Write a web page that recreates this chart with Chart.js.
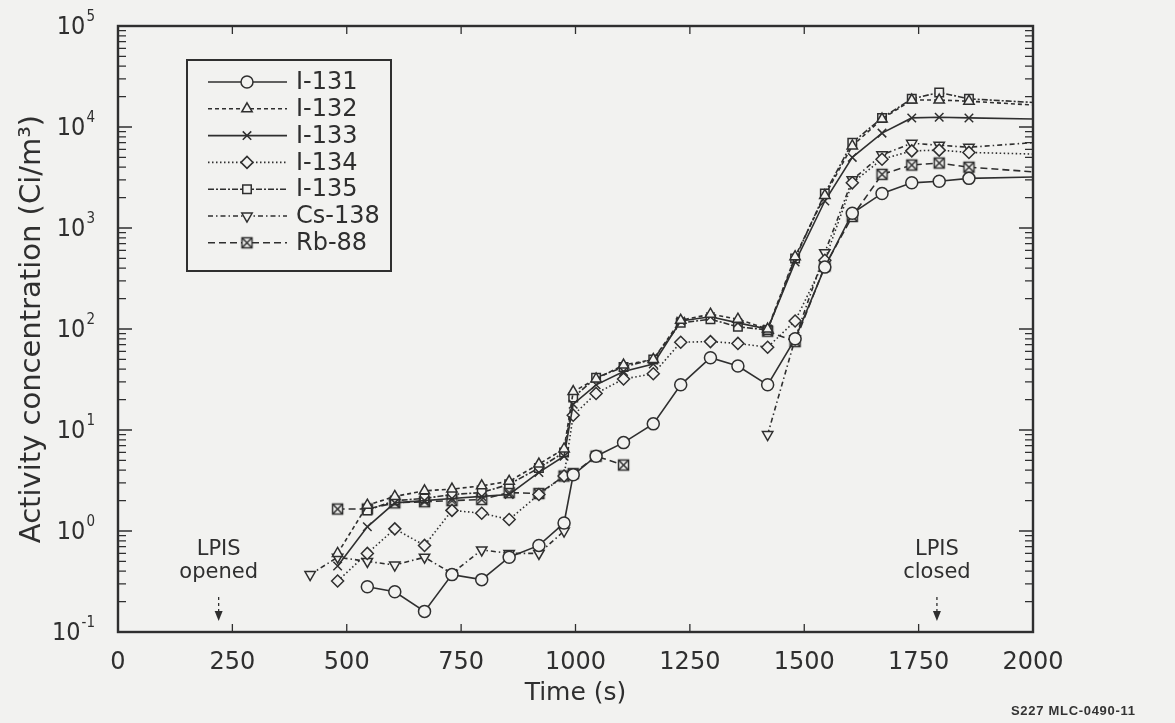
<!DOCTYPE html>
<html>
<head>
<meta charset="utf-8">
<script src="https://cdn.jsdelivr.net/npm/chart.js@4.4.0/dist/chart.umd.min.js"></script>
<style>
    body { margin: 0; background: #f2f2f0; }
    #wrap { position: relative; width: 1175px; height: 723px; }
    #code {
        position: absolute; left: 1011px; top: 703px;
        font: bold 13px "Liberation Sans", Arial, sans-serif;
        color: #333; letter-spacing: 0.7px;
    }
</style>
</head>
<body>
<div id="wrap">
    <canvas id="activityChart" width="1175" height="723"></canvas>
    <div id="code">S227 MLC-0490-11</div>
</div>
<script>
// sample times (s); the last one is where the curves run out to the frame
const times  = [420, 480, 545, 605, 670, 730, 795, 855, 920, 975, 995, 1045, 1105, 1170, 1230, 1295, 1355, 1420, 1480, 1545, 1605, 1670, 1735, 1795, 1860, 2000];

const i131  = [null, null, 0.28, 0.25, 0.16, 0.37, 0.33, 0.55, 0.72, 1.2, 3.6, 5.5, 7.5, 11.5, 28, 52, 43, 28, 80, 410, 1400, 2200, 2800, 2900, 3100, 3200];
const i132  = [null, 0.6, 1.8, 2.2, 2.5, 2.6, 2.8, 3.1, 4.6, 6.5, 24, 32, 44, 50, 122, 140, 125, 100, 520, 2100, 6500, 12000, 18500, 18500, 18000, 16500];
const i133  = [null, 0.45, 1.1, 1.9, 2.0, 2.1, 2.2, 2.3, 3.8, 5.5, 18, 28, 38, 45, 120, 132, 115, 100, 460, 1850, 5000, 8700, 12300, 12500, 12300, 12000];
const i134  = [null, 0.32, 0.6, 1.05, 0.72, 1.6, 1.5, 1.3, 2.3, 3.5, 14, 23, 32, 36, 74, 75, 72, 66, 120, 480, 2800, 4800, 5800, 5900, 5600, 5400];
const i135  = [null, null, 1.6, 2.0, 2.1, 2.3, 2.4, 2.9, 4.2, 6.0, 21, 33, 42, 50, 115, 125, 105, 98, 500, 2200, 7000, 12300, 19000, 22000, 19000, 17500];
const cs138 = [0.37, 0.55, 0.5, 0.46, 0.55, 0.38, 0.65, 0.6, 0.6, 1.0, null, null, null, null, null, null, null, 9, 80, 570, 3000, 5300, 6900, 6600, 6300, 7000];
const rb88  = [null, 1.65, 1.65, 1.9, 1.95, 2.0, 2.05, 2.4, 2.35, 3.5, 3.7, 5.5, 4.5, null, null, null, null, 95, 75, 420, 1300, 3400, 4200, 4400, 4000, 3600];

const xTicks = [0, 250, 500, 750, 1000, 1250, 1500, 1750, 2000];
const yTicks = [0.1, 1, 10, 100, 1000, 10000, 100000];
const yTickPowers = ["-1", "0", "1", "2", "3", "4", "5"];

const lpisOpened = 220;
const lpisClosed = 1790;

const ink = "#2f2f2f";
const paper = "#f2f2f0";
const narrow = '"Liberation Sans Narrow", "DejaVu Sans Condensed", "Liberation Sans"';

function boxCross() {
    const c = document.createElement("canvas");
    c.width = 15;
    c.height = 15;
    const g = c.getContext("2d");
    g.fillStyle = paper;
    g.fillRect(2, 2, 11, 11);
    g.strokeStyle = ink;
    g.lineWidth = 1.5;
    g.strokeRect(2.5, 2.5, 10, 10);
    g.beginPath();
    g.moveTo(2.5, 2.5); g.lineTo(12.5, 12.5);
    g.moveTo(12.5, 2.5); g.lineTo(2.5, 12.5);
    g.stroke();
    return c;
}

function series(label, values, dash, style, rot) {
    return {
        label: label,
        data: times.map((t, k) => ({ x: t, y: values[k] })),
        borderColor: ink,
        borderWidth: 1.6,
        borderDash: dash,
        pointStyle: style,
        pointRotation: rot || 0,
        pointRadius: c => (c.raw && c.raw.x === 2000) ? 0 : 6,
        pointBorderWidth: 1.5,
        pointBorderColor: ink,
        pointBackgroundColor: paper,
        spanGaps: false,
        tension: 0
    };
}

const frameTicks = {
    id: "frameTicks",
    afterDatasetsDraw(chart) {
        const { ctx, chartArea: a, scales: { x, y } } = chart;
        ctx.save();
        ctx.strokeStyle = ink;
        ctx.lineWidth = 1.3;
        ctx.beginPath();
        xTicks.forEach(v => {
            if (v <= 0 || v >= 2000) return;
            const px = x.getPixelForValue(v);
            ctx.moveTo(px, a.bottom); ctx.lineTo(px, a.bottom - 8);
            ctx.moveTo(px, a.top); ctx.lineTo(px, a.top + 8);
        });
        for (let e = -1; e < 5; e++) {
            for (let m = 1; m < 10; m++) {
                const py = y.getPixelForValue(m * Math.pow(10, e));
                const len = m === 1 ? 14 : 8;
                ctx.moveTo(a.left, py); ctx.lineTo(a.left + len, py);
                ctx.moveTo(a.right, py); ctx.lineTo(a.right - len, py);
            }
        }
        ctx.stroke();
        ctx.lineWidth = 2.4;
        ctx.strokeRect(a.left, a.top, a.right - a.left, a.bottom - a.top);

        // y tick labels as 10 with a raised power
        ctx.fillStyle = ink;
        ctx.textAlign = "left";
        ctx.textBaseline = "middle";
        yTicks.forEach((v, k) => {
            const py = y.getPixelForValue(v);
            ctx.font = "25px " + narrow;
            const w1 = ctx.measureText("10").width;
            ctx.font = "15px " + narrow;
            const w2 = ctx.measureText(yTickPowers[k]).width;
            const x0 = a.left - 24 - w1 - w2;
            ctx.font = "25px " + narrow;
            ctx.fillText("10", x0, py + 1);
            ctx.font = "15px " + narrow;
            ctx.fillText(yTickPowers[k], x0 + w1 + 1, py - 9);
        });

        // LPIS markers
        ctx.font = '21px "DejaVu Sans"';
        ctx.textAlign = "center";
        [[lpisOpened, "opened"], [lpisClosed, "closed"]].forEach(([t, word]) => {
            const px = x.getPixelForValue(t);
            ctx.fillText("LPIS", px, 550);
            ctx.fillText(word, px, 573);
            ctx.lineWidth = 1.3;
            ctx.setLineDash([3, 3]);
            ctx.beginPath();
            ctx.moveTo(px, 597); ctx.lineTo(px, 612);
            ctx.stroke();
            ctx.setLineDash([]);
            ctx.beginPath();
            ctx.moveTo(px - 4, 611); ctx.lineTo(px + 4, 611); ctx.lineTo(px, 621);
            ctx.closePath();
            ctx.fill();
        });
        ctx.restore();
    }
};

const boxLegend = {
    id: "boxLegend",
    afterDraw(chart) {
        const ctx = chart.ctx;
        ctx.save();
        ctx.strokeStyle = ink;
        ctx.lineWidth = 2;
        ctx.strokeRect(187, 60, 204, 211);
        chart.data.datasets.forEach((ds, k) => {
            const yy = 82 + k * 26.8;
            ctx.strokeStyle = ink;
            ctx.setLineDash(ds.borderDash);
            ctx.lineWidth = ds.borderWidth;
            ctx.beginPath();
            ctx.moveTo(208, yy); ctx.lineTo(287, yy);
            ctx.stroke();
            ctx.setLineDash([]);
            ctx.fillStyle = paper;
            ctx.lineWidth = 1.5;
            Chart.helpers.drawPoint(ctx, {
                pointStyle: ds.pointStyle, rotation: ds.pointRotation, radius: 6, borderWidth: 1.5
            }, 247, yy);
            ctx.fillStyle = ink;
            ctx.font = '24px "DejaVu Sans"';
            ctx.textAlign = "left";
            ctx.textBaseline = "middle";
            ctx.fillText(ds.label, 296, yy + 1);
        });
        ctx.restore();
    }
};

new Chart(activityChart, {
    type: "line",
    data: {
        datasets: [
            series("I-131", i131, [], "circle"),
            series("I-132", i132, [4, 3], "triangle"),
            series("I-133", i133, [], "crossRot"),
            series("I-134", i134, [1.5, 2.5], "rectRot"),
            series("I-135", i135, [6, 2, 2, 2], "rect"),
            series("Cs-138", cs138, [5, 3, 1.5, 3], "triangle", 180),
            series("Rb-88", rb88, [7, 4], boxCross())
        ]
    },
    options: {
        responsive: false,
        animation: false,
        devicePixelRatio: 1,
        layout: { padding: { top: 26, right: 142, left: 0, bottom: 0 } },
        plugins: { legend: { display: false }, tooltip: { enabled: false } },
        scales: {
            x: {
                type: "linear",
                min: 0,
                max: 2000,
                afterBuildTicks: s => { s.ticks = xTicks.map(v => ({ value: v })); },
                afterFit: s => { s.height = 91; },
                grid: { display: false, drawTicks: false },
                border: { display: false },
                ticks: {
                    color: ink, padding: 16, maxRotation: 0, autoSkip: false,
                    font: { family: '"DejaVu Sans"', size: 24 },
                    callback: v => String(v)
                },
                title: {
                    display: true, text: "Time (s)", color: ink,
                    font: { family: '"DejaVu Sans"', size: 25 },
                    padding: { top: 0, bottom: 15 }
                }
            },
            y: {
                type: "logarithmic",
                min: 0.1,
                max: 100000,
                afterBuildTicks: s => { s.ticks = yTicks.map(v => ({ value: v })); },
                afterFit: s => { s.width = 118; },
                grid: { display: false, drawTicks: false },
                border: { display: false },
                ticks: { display: false },
                title: {
                    display: true, text: "Activity concentration (Ci/m³)", color: ink,
                    font: { family: '"DejaVu Sans"', size: 29 },
                    padding: { top: 15, bottom: 0 }
                }
            }
        }
    },
    plugins: [frameTicks, boxLegend]
});
</script>
</body>
</html>
